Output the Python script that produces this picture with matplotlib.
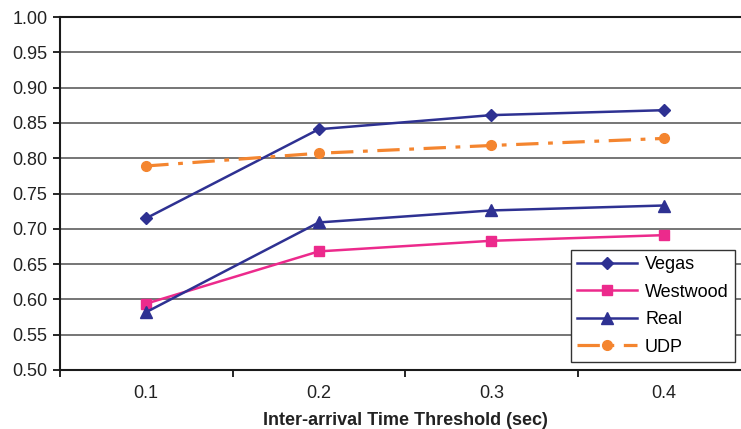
import numpy as np
import matplotlib.pyplot as plt

# inter-arrival time thresholds (sec)
thresholds = ['0.1', '0.2', '0.3', '0.4']

vegas = [0.715, 0.841, 0.861, 0.868]
westwood = [0.594, 0.668, 0.683, 0.691]
real = [0.582, 0.709, 0.726, 0.733]
udp = [0.789, 0.807, 0.818, 0.828]

navy = '#2E3192'
pink = '#EC2A8C'
orange = '#F4852F'

plt.rcParams['font.family'] = ['Liberation Sans', 'DejaVu Sans']

fig = plt.figure(figsize=(7.41, 4.29), dpi=100)
# plot area runs off the right edge of the figure
ax = fig.add_axes([60 / 741, 59 / 429, 690 / 741, 353 / 429])

x = np.arange(len(thresholds))

ax.plot(x, vegas, color=navy, lw=1.8, marker='D', ms=6, label='Vegas')
ax.plot(x, westwood, color=pink, lw=1.8, marker='s', ms=7, label='Westwood')
ax.plot(x, real, color=navy, lw=1.8, marker='^', ms=8, label='Real')
ax.plot(x, udp, color=orange, lw=2.3, marker='o', ms=7,
        linestyle=(0, (7, 3, 1.5, 3)), label='UDP')

ax.set_xlim(-0.5, 3.5)
ax.set_ylim(0.5, 1.0)
yt = np.arange(0.5, 1.001, 0.05)
ax.set_yticks(yt)
ax.set_yticklabels([f'{v:.2f}' for v in yt])
ax.set_xticks(x)
ax.set_xticklabels(thresholds)
ax.set_xticks(np.arange(-0.5, 4.0, 1.0), minor=True)
ax.tick_params(axis='x', which='major', length=0, pad=11, labelsize=13,
               labelcolor='#222222')
ax.tick_params(axis='x', which='minor', length=5, width=1.2, direction='out')
ax.tick_params(axis='y', length=5, width=1.2, pad=4, labelsize=13,
               labelcolor='#222222')

ax.yaxis.grid(True, color='#6a6a6a', lw=1.3)
ax.set_axisbelow(True)
for side in ['left', 'bottom', 'top']:
    ax.spines[side].set_color('#1a1a1a')
    ax.spines[side].set_linewidth(1.5)
ax.spines['right'].set_visible(False)

ax.set_xlabel('Inter-arrival Time Threshold (sec)', fontsize=13,
              fontweight='bold', color='#222222', labelpad=7)

leg = ax.legend(loc='upper left', bbox_to_anchor=(571 / 741, 1 - 250 / 429),
                bbox_transform=fig.transFigure,
                fontsize=13, frameon=True, fancybox=False, handlelength=3.3,
                borderpad=0.35, labelspacing=0.58, handletextpad=0.45,
                borderaxespad=0, framealpha=1)
leg.get_frame().set_edgecolor('#333333')
leg.get_frame().set_linewidth(1.0)

fig.savefig('out.png', dpi=100)
